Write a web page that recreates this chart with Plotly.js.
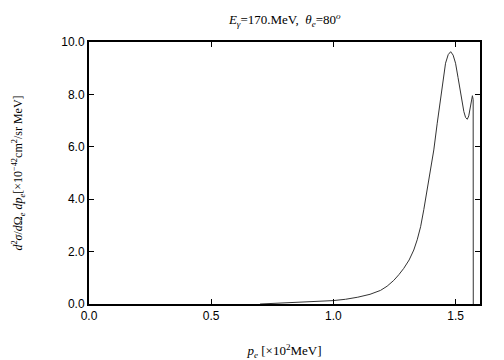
<!DOCTYPE html>
<html><head><meta charset="utf-8">
<script src="https://cdn.plot.ly/plotly-3.0.1.min.js"></script>
<style>body{margin:0}#c{width:504px;height:360px}</style>
</head><body><div id="c"></div>
<script>
const pe = [0.70, 0.75, 0.80, 0.85, 0.90, 0.95, 1.00, 1.05, 1.10, 1.15, 1.193, 1.22, 1.247, 1.268, 1.288, 1.31, 1.329, 1.343, 1.357, 1.370, 1.384, 1.397, 1.411, 1.425, 1.439, 1.449, 1.459, 1.470, 1.480, 1.490, 1.500, 1.510, 1.520, 1.527, 1.534, 1.541, 1.548, 1.554, 1.559, 1.563, 1.566, 1.569, 1.572, 1.5725];
const xsec = [0.0, 0.02, 0.03, 0.05, 0.07, 0.10, 0.13, 0.18, 0.26, 0.37, 0.52, 0.68, 0.90, 1.12, 1.36, 1.68, 2.06, 2.45, 2.95, 3.60, 4.35, 5.10, 5.88, 6.90, 7.91, 8.60, 9.19, 9.52, 9.63, 9.50, 9.19, 8.65, 8.04, 7.65, 7.34, 7.12, 7.05, 7.18, 7.45, 7.72, 7.91, 7.95, 7.80, 0.0];
const xTicks = [0, 0.5, 1.0, 1.5];
const xTickText = ['0.0', '0.5', '1.0', '1.5'];
const yTicks = [0, 2, 4, 6, 8, 10];
const yTickText = ['0.0', '2.0', '4.0', '6.0', '8.0', '10.0'];

const axisCommon = {
  showline: true, linecolor: '#000', linewidth: 2, mirror: 'ticks',
  ticks: 'inside', ticklen: 5, tickwidth: 1, tickcolor: '#000',
  showgrid: false, zeroline: false,
  tickfont: {family: 'Liberation Sans, Arial, sans-serif', size: 12, color: '#000'}
};

const trace = {x: pe, y: xsec, mode: 'lines', line: {color: '#333', width: 1}, hoverinfo: 'none'};

const layout = {
  width: 504, height: 360,
  margin: {l: 89, r: 24, t: 42, b: 56},
  paper_bgcolor: '#fff', plot_bgcolor: '#fff',
  showlegend: false,
  title: {text: '<i>E</i><sub><i>γ</i></sub>=170.MeV,  <i>θ</i><sub><i>e</i></sub>=80<sup><i>o</i></sup>',
    font: {family: 'Liberation Serif, Times New Roman, serif', size: 13, color: '#000'},
    x: 0.565, xanchor: 'center', y: 0.945, yanchor: 'middle'},
  xaxis: Object.assign({}, axisCommon, {range: [0, 1.6], tickvals: xTicks, ticktext: xTickText,
    title: {text: '<i>p</i><sub><i>e</i></sub> [×10<sup>2</sup>MeV]', standoff: 28,
      font: {family: 'Liberation Serif, Times New Roman, serif', size: 13, color: '#000'}}}),
  yaxis: Object.assign({}, axisCommon, {range: [0, 10], tickvals: yTicks, ticktext: yTickText,
    title: {text: '<i>d</i><sup>2</sup><i>σ</i>/<i>d</i>Ω<sub><i>e</i></sub> <i>dp</i><sub><i>e</i></sub>[×10<sup>−42</sup>cm<sup>2</sup>/sr MeV]', standoff: 36,
      font: {family: 'Liberation Serif, Times New Roman, serif', size: 12, color: '#000'}}})
};

Plotly.newPlot('c', [trace], layout, {staticPlot: true, displayModeBar: false});
</script>
</body></html>
